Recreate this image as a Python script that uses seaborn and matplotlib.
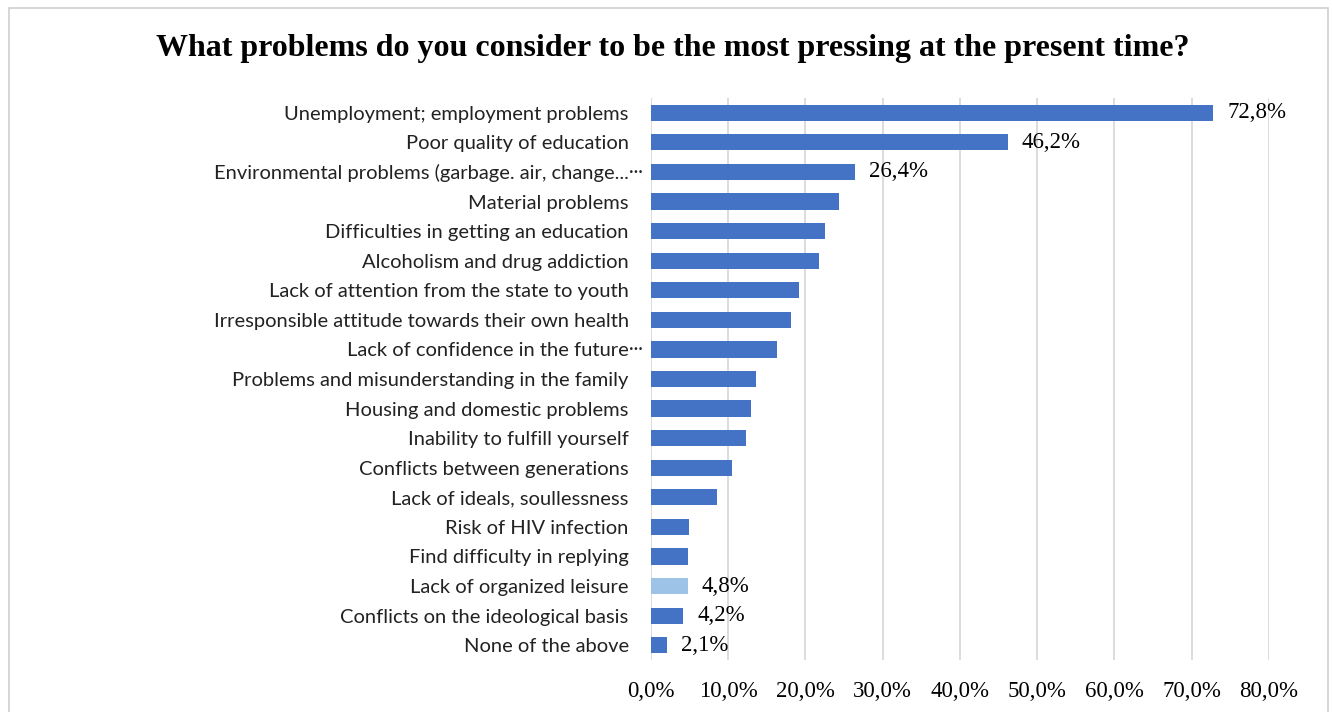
import matplotlib
matplotlib.use("Agg")
import matplotlib.pyplot as plt
import seaborn as sns
import pandas as pd
from matplotlib.patches import Rectangle

categories = [
    "Unemployment; employment problems",
    "Poor quality of education",
    "Environmental problems (garbage. air, change...",
    "Material problems",
    "Difficulties in getting an education",
    "Alcoholism and drug addiction",
    "Lack of attention from the state to youth",
    "Irresponsible attitude towards their own health",
    "Lack of confidence in the future",
    "Problems and misunderstanding in the family",
    "Housing and domestic problems",
    "Inability to fulfill yourself",
    "Conflicts between generations",
    "Lack of ideals, soullessness",
    "Risk of HIV infection",
    "Find difficulty in replying",
    "Lack of organized leisure",
    "Conflicts on the ideological basis",
    "None of the above",
]
values = [72.8, 46.2, 26.4, 24.4, 22.5, 21.7, 19.1, 18.1, 16.3, 13.6,
          13.0, 12.3, 10.5, 8.5, 4.9, 4.8, 4.8, 4.2, 2.1]
labeled = [0, 1, 2, 16, 17, 18]
truncated = [2, 8]
highlight = 16
x_ticks = [0, 10, 20, 30, 40, 50, 60, 70, 80]

BLUE = "#4472C4"
LIGHT = "#9DC3E6"

sns.set_theme(style="white")
plt.rcParams["font.family"] = ["Lato", "DejaVu Sans"]

df = pd.DataFrame({"category": categories, "value": values})
palette = [LIGHT if i == highlight else BLUE for i in range(len(categories))]

fig = plt.figure(figsize=(13.32, 7.12), dpi=100)
ax = fig.add_axes([0.4887, 0.0730, 0.4640, 0.7894])

sns.barplot(data=df, y="category", x="value", hue="category", palette=palette,
            legend=False, width=0.55, orient="h", ax=ax, saturation=1,
            edgecolor="none")

ax.set_xlim(0, 80)
ax.set_ylim(len(categories) - 0.5, -0.5)
ax.set_xticks(x_ticks)
ax.set_xticklabels([f"{t:.1f}%".replace(".", ",") for t in x_ticks],
                   family="Liberation Serif", fontsize=16.5, color="#000000")
ax.tick_params(axis="x", length=0, pad=15)
ax.tick_params(axis="y", length=0, pad=16, labelsize=14.5, labelcolor="#222222")
ax.set_xlabel("")
ax.set_ylabel("")
for s in ax.spines.values():
    s.set_visible(False)
ax.xaxis.grid(True, color="#D9D9D9", linewidth=1.3)
ax.set_axisbelow(True)

# leader dots after truncated category names
for i in truncated:
    ax.annotate("\u00b7\u00b7\u00b7", xy=(0, i), xytext=(-16, 0),
                textcoords="offset points", ha="left", va="center",
                fontsize=13, color="#222222", annotation_clip=False)

for i in labeled:
    v = values[i]
    ax.annotate(f"{v:.1f}%".replace(".", ","), xy=(v, i), xytext=(10, 0),
                textcoords="offset points", ha="left", va="center",
                family="Liberation Serif", fontsize=16.5, color="#000000")

fig.suptitle("What problems do you consider to be the most pressing at the present time?",
             x=0.505, y=0.952, family="Liberation Serif", fontweight="bold",
             fontsize=23, color="#000000")

fig.patches.append(Rectangle((0.007, -0.01), 0.990, 0.999, transform=fig.transFigure,
                             fill=False, edgecolor="#D0D0D0", linewidth=1.2))

fig.savefig("out.png", dpi=100, facecolor="white")
